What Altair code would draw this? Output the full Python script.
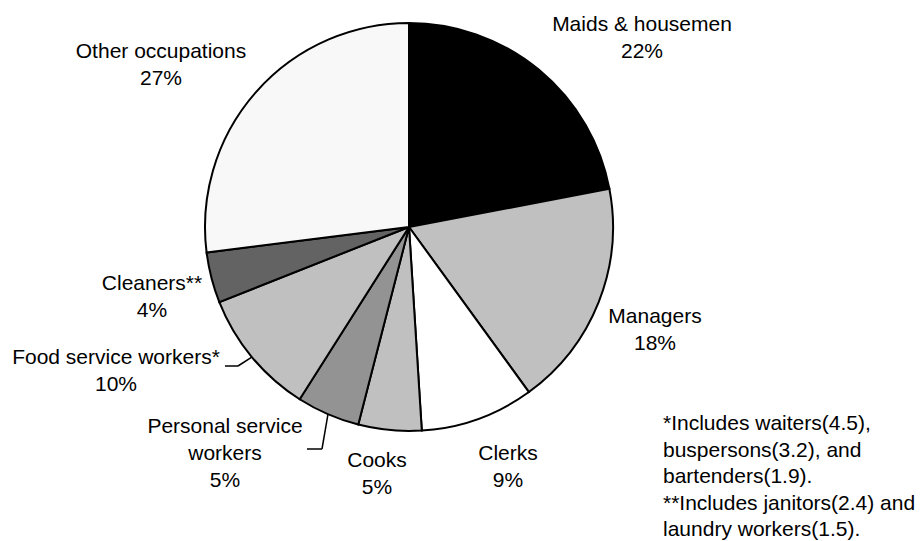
import math
import altair as alt
import pandas as pd

# ---- data ----
categories = ["Maids & housemen", "Managers", "Clerks", "Cooks",
              "Personal service workers", "Food service workers*",
              "Cleaners**", "Other occupations"]
shares = [22, 18, 9, 5, 5, 10, 4, 27]
footnote_lines = ["*Includes waiters(4.5),", "buspersons(3.2), and",
                  "bartenders(1.9).", "**Includes janitors(2.4) and",
                  "laundry workers(1.5)."]

# ---- styling / layout ----
fills = ["#000000", "#c0c0c0", "#ffffff", "#c0c0c0", "#939393",
         "#c0c0c0", "#636363", "#f8f8f8"]
label_lines = [["Maids & housemen"], ["Managers"], ["Clerks"], ["Cooks"],
               ["Personal service", "workers"], ["Food service workers*"],
               ["Cleaners**"], ["Other occupations"]]
W, H = 907, 533
CX, CY, R = 401, 219, 204
FONT = "Liberation Sans"
FS = 21
LH = 27
# label anchors (centre x, first baseline y) in chart pixels
label_anchor = [(634, 23), (647, 315), (500, 452), (369, 459),
                (217, 425), (108, 356), (144, 282), (153, 50)]
# elbow points of leader lines for slices 4 and 5
leaders = {4: [(299, 441), (314, 441)], 5: [(217, 358), (230, 358)]}
foot_x, foot_y, foot_lh = 655, 422, 26.5

pie_df = pd.DataFrame({"category": categories, "share": shares,
                       "fill": fills, "idx": range(len(categories))})

pie = alt.Chart(pie_df).mark_arc(radius=R, stroke="#000000", strokeWidth=2).encode(
    theta=alt.Theta("share:Q", stack=True),
    order=alt.Order("idx:Q"),
    color=alt.Color("fill:N", scale=None),
    x=alt.value(CX), y=alt.value(CY),
)

rows = []
for i, (lines, (ax, ay)) in enumerate(zip(label_lines, label_anchor)):
    allines = lines + [f"{shares[i]}%"]
    for k, t in enumerate(allines):
        rows.append({"x": ax, "y": ay + k * LH, "t": t, "a": "center"})
for k, t in enumerate(footnote_lines):
    rows.append({"x": foot_x, "y": foot_y + k * foot_lh, "t": t, "a": "left"})
txt_df = pd.DataFrame(rows)

text_c = alt.Chart(txt_df[txt_df.a == "center"]).mark_text(
    font=FONT, fontSize=FS, align="center", baseline="alphabetic", color="#000000"
).encode(x=alt.X("x:Q", scale=None), y=alt.Y("y:Q", scale=None), text="t:N")
text_l = alt.Chart(txt_df[txt_df.a == "left"]).mark_text(
    font=FONT, fontSize=FS, align="left", baseline="alphabetic", color="#000000"
).encode(x=alt.X("x:Q", scale=None), y=alt.Y("y:Q", scale=None), text="t:N")

# leader lines: elbow points then the rim at the slice mid-angle
seg = []
total = sum(shares)
for i, pts in leaders.items():
    mid = (sum(shares[:i]) + shares[i] / 2) / total * 2 * math.pi
    rim = (CX + R * math.sin(mid), CY - R * math.cos(mid))
    path = pts + [rim]
    for (x1, y1), (x2, y2) in zip(path[:-1], path[1:]):
        seg.append({"x": x1, "y": y1, "x2": x2, "y2": y2})
seg_df = pd.DataFrame(seg)
lead = alt.Chart(seg_df).mark_rule(color="#000000", strokeWidth=1.5).encode(
    x=alt.X("x:Q", scale=None), y=alt.Y("y:Q", scale=None),
    x2="x2:Q", y2="y2:Q")

chart = alt.layer(pie, lead, text_c, text_l).properties(
    width=W, height=H, padding=0,
    autosize=alt.AutoSizeParams(type="none"),
    background="#ffffff",
).configure_view(stroke=None)

chart.save("out.html", embed_options={"renderer": "svg", "actions": False})
